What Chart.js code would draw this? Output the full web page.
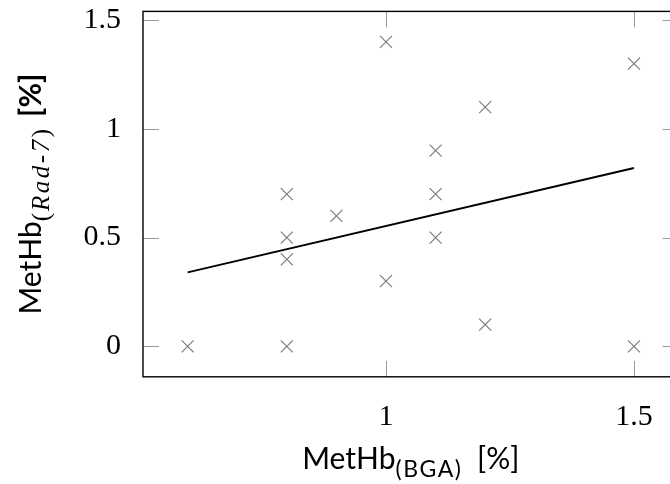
<!DOCTYPE html>
<html>
<head>
<meta charset="utf-8">
<script src="https://cdn.jsdelivr.net/npm/chart.js@4"></script>
<style>
  html, body { margin: 0; padding: 0; background: white; overflow: hidden; }
</style>
</head>
<body>
<canvas id="grafico" width="690" height="484"></canvas>
<script>
// dados
var bgaValues  = [0.6, 0.8, 0.8, 0.8, 0.8, 0.9, 1.0, 1.0, 1.1, 1.1, 1.1, 1.2, 1.2, 1.5, 1.5];
var rad7Values = [0, 0.7, 0.5, 0.4, 0, 0.6, 1.4, 0.3, 0.9, 0.7, 0.5, 1.1, 0.1, 1.3, 0];
var fitX = [0.6, 1.5];
var fitY = [0.34, 0.82];
var xTicks = [1, 1.5];
var yTicks = [0, 0.5, 1, 1.5];

var pontos = bgaValues.map(function (x, i) { return { x: x, y: rad7Values[i] }; });
var reta = fitX.map(function (x, i) { return { x: x, y: fitY[i] }; });

var serif = "'Liberation Serif', serif";
var sans = "Lato, 'DejaVu Sans', sans-serif";

function desenharTexto(ctx, partes, cx, base) {
    var total = 0;
    partes.forEach(function (p) {
        if (p.gap) { total += p.gap; return; }
        ctx.font = p.f;
        ctx.letterSpacing = (p.ls || 0) + 'px';
        total += ctx.measureText(p.t).width;
    });
    var x = cx - total / 2;
    ctx.textAlign = 'left';
    ctx.textBaseline = 'alphabetic';
    partes.forEach(function (p) {
        if (p.gap) { x += p.gap; return; }
        ctx.font = p.f;
        ctx.letterSpacing = (p.ls || 0) + 'px';
        ctx.fillText(p.t, x, base + (p.dy || 0));
        x += ctx.measureText(p.t).width;
    });
    ctx.letterSpacing = '0px';
}

var moldura = {
    id: 'moldura',
    afterDraw: function (chart) {
        var ctx = chart.ctx;
        var a = chart.chartArea;
        var sx = chart.scales.x, sy = chart.scales.y;
        ctx.save();
        // marcas para dentro
        ctx.strokeStyle = '#9a9a9a';
        ctx.lineWidth = 1;
        ctx.beginPath();
        yTicks.forEach(function (v) {
            var py = Math.round(sy.getPixelForValue(v)) + 0.5;
            ctx.moveTo(a.left, py); ctx.lineTo(a.left + 16, py);
            ctx.moveTo(a.right, py); ctx.lineTo(a.right - 16, py);
        });
        xTicks.forEach(function (v) {
            var px = Math.round(sx.getPixelForValue(v)) + 0.5;
            ctx.moveTo(px, a.top); ctx.lineTo(px, a.top + 16);
            ctx.moveTo(px, a.bottom); ctx.lineTo(px, a.bottom - 16);
        });
        ctx.stroke();
        // caixa
        ctx.strokeStyle = '#000';
        ctx.lineWidth = 1.4;
        ctx.strokeRect(a.left, a.top, a.right - a.left, a.bottom - a.top);
        // titulos
        ctx.fillStyle = '#000';
        desenharTexto(ctx, [
            { t: 'MetHb', f: '30px ' + sans },
            { t: '(BGA', f: '23px ' + sans, dy: 8, ls: 1.5 },
            { t: ')', f: '23px ' + sans, dy: 8 },
            { gap: 16 },
            { t: '[%]', f: '30px ' + sans }
        ], (a.left + a.right) / 2, 469);
        ctx.translate(41, (a.top + a.bottom) / 2);
        ctx.rotate(-Math.PI / 2);
        desenharTexto(ctx, [
            { t: 'MetHb', f: '30px ' + sans },
            { t: '(', f: '25px ' + serif, dy: 8, ls: 2 },
            { t: 'Rad-7', f: 'italic 25px ' + serif, dy: 8, ls: 2.5 },
            { t: ')', f: '25px ' + serif, dy: 8 },
            { gap: 12 },
            { t: '[%]', f: 'bold 30px ' + sans }
        ], 0, 0);
        ctx.restore();
    }
};

var ctx = document.getElementById('grafico').getContext('2d');
var grafico = new Chart(ctx, {
    type: 'scatter',
    data: {
        datasets: [{
            label: 'Medidas',
            data: pontos,
            pointStyle: 'crossRot',
            pointRadius: 8.5,
            pointBorderColor: '#808080',
            pointBorderWidth: 1.3,
            backgroundColor: '#808080'
        }, {
            type: 'line',
            label: 'Regressao',
            data: reta,
            borderColor: '#000',
            borderWidth: 2,
            pointRadius: 0,
            fill: false
        }]
    },
    plugins: [moldura],
    options: {
        responsive: false,
        animation: false,
        layout: { padding: { top: 11.4, right: 11.4, left: 0, bottom: 0 } },
        plugins: { legend: { display: false }, tooltip: { enabled: false } },
        scales: {
            x: {
                type: 'linear',
                min: 0.51,
                max: 1.59,
                grid: { display: false },
                border: { display: false },
                afterBuildTicks: function (s) { s.ticks = xTicks.map(function (v) { return { value: v }; }); },
                afterFit: function (s) { s.height = 107.2; s.paddingLeft = 0; s.paddingRight = 0; },
                ticks: {
                    color: '#000', font: { family: serif, size: 30 }, padding: 14, maxRotation: 0,
                    callback: function (v) { return String(v); }
                }
            },
            y: {
                type: 'linear',
                min: -0.14,
                max: 1.54,
                grid: { display: false },
                border: { display: false },
                afterBuildTicks: function (s) { s.ticks = yTicks.map(function (v) { return { value: v }; }); },
                afterFit: function (s) { s.width = 143; s.paddingTop = 0; s.paddingBottom = 0; },
                ticks: {
                    color: '#000', font: { family: serif, size: 30 }, padding: 14,
                    callback: function (v) { return String(v); }
                }
            }
        }
    }
});
</script>
</body>
</html>
